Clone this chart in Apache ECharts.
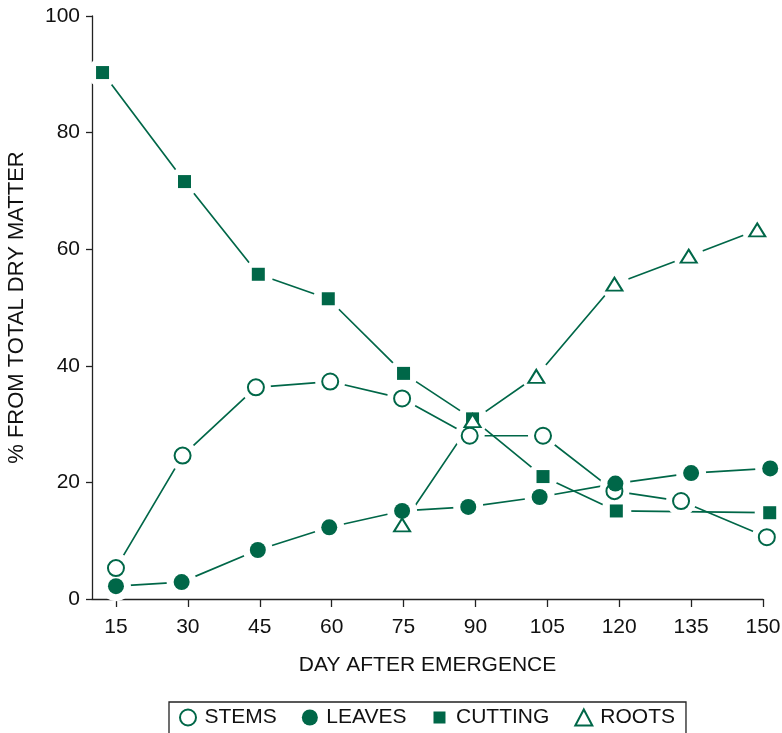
<!DOCTYPE html>
<html>
<head>
<meta charset="utf-8">
<style>
  html, body { margin: 0; padding: 0; background: #fff; }
  #chart { width: 782px; height: 733px; }
</style>
<script src="https://cdn.jsdelivr.net/npm/echarts@6/dist/echarts.min.js"></script>
</head>
<body>
<div id="chart"></div>
<script>
// Day after emergence (x) and share of total dry matter in % (y) per organ
const stemsDays   = [15, 28.9, 44.2, 59.7, 74.7, 88.8, 104.1, 119, 132.9, 150.8];
const stemsPct    = [5.3, 24.6, 36.3, 37.3, 34.4, 28.0, 28.0, 18.5, 16.8, 10.6];
const leavesDays  = [15, 28.7, 44.6, 59.5, 74.7, 88.5, 103.4, 119.2, 135, 151.5];
const leavesPct   = [2.2, 2.9, 8.4, 12.3, 15.1, 15.8, 17.5, 19.8, 21.6, 22.4];
const cuttingDays = [12.2, 29.3, 44.7, 59.3, 75.0, 89.4, 104.1, 119.4, 151.4];
const cuttingPct  = [90.3, 71.6, 55.7, 51.5, 38.7, 30.9, 21.0, 15.1, 14.8];
const rootsDays   = [74.7, 89.4, 102.7, 119, 134.5, 148.8];
const rootsPct    = [12.7, 30.6, 38.2, 54.0, 58.8, 63.3];
const xTicks      = [15, 30, 45, 60, 75, 90, 105, 120, 135, 150];

const GREEN = '#006748';
const FONT = '"Liberation Sans", Arial, Helvetica, sans-serif';

function pairs(xs, ys) { return xs.map((x, i) => [x, ys[i]]); }

// small square centred in a 16x16 box for the legend key
const SMALL_SQUARE = 'path://M0,0h0.01v0.01h-0.01zM16,16h0.01v0.01h-0.01zM2,2h12v12h-12z';

const organs = [
  { name: 'STEMS',   data: pairs(stemsDays, stemsPct),     symbol: 'circle',   size: 16, icon: 'circle',
    style: { color: '#fff', borderColor: GREEN, borderWidth: 2, opacity: 1 } },
  { name: 'LEAVES',  data: pairs(leavesDays, leavesPct),   symbol: 'circle',   size: 16, icon: 'circle',
    style: { color: GREEN, opacity: 1 } },
  { name: 'CUTTING', data: pairs(cuttingDays, cuttingPct), symbol: 'rect',     size: 13, icon: SMALL_SQUARE,
    style: { color: GREEN, opacity: 1 } },
  { name: 'ROOTS',   data: pairs(rootsDays, rootsPct),     symbol: 'triangle', size: [16, 13], icon: 'triangle',
    style: { color: '#fff', borderColor: GREEN, borderWidth: 2, opacity: 1 } }
];

const series = [];
// connecting lines
organs.forEach(o => series.push({
  type: 'line', data: o.data, showSymbol: false, symbol: 'none', silent: true, clip: false,
  lineStyle: { color: GREEN, width: 1.7 }, z: 1, animation: false
}));
// white clearance around every marker so lines stop short of it
organs.forEach(o => series.push({
  type: 'scatter', data: o.data, symbol: 'circle', symbolSize: 30, silent: true, clip: false,
  itemStyle: { color: '#fff', opacity: 1 }, z: 2, animation: false
}));
// markers
organs.forEach(o => series.push({
  type: 'scatter', name: o.name, data: o.data, symbol: o.symbol, symbolSize: o.size, clip: false,
  itemStyle: o.style, z: 3, animation: false
}));

const chart = echarts.init(document.getElementById('chart'), null, { renderer: 'canvas' });
chart.setOption({
  backgroundColor: '#fff',
  textStyle: { fontFamily: FONT },
  grid: { left: 92, right: 19, top: 16, bottom: 134, containLabel: false, outerBoundsMode: 'none' },
  xAxis: {
    type: 'value', min: 10, max: 150,
    name: 'DAY AFTER EMERGENCE', nameLocation: 'middle', nameGap: 56,
    nameTextStyle: { fontSize: 21, color: '#111', fontFamily: FONT },
    axisLine: { show: true, lineStyle: { color: '#222', width: 1.3 } },
    axisTick: { show: true, length: 8, customValues: xTicks, lineStyle: { color: '#222', width: 1.3 } },
    axisLabel: { customValues: xTicks, fontSize: 21, color: '#111', margin: 18, fontFamily: FONT },
    splitLine: { show: false }
  },
  yAxis: {
    type: 'value', min: 0, max: 100, interval: 20,
    name: '% FROM TOTAL DRY MATTER', nameLocation: 'middle', nameGap: 64, nameRotate: 90,
    nameTextStyle: { fontSize: 22, color: '#111', fontFamily: FONT },
    axisLine: { show: true, lineStyle: { color: '#222', width: 1.3 } },
    axisTick: { show: true, length: 6, lineStyle: { color: '#222', width: 1.3 } },
    axisLabel: { fontSize: 21, color: '#111', margin: 12, fontFamily: FONT },
    splitLine: { show: false }
  },
  legend: {
    top: 702, left: 169,
    orient: 'horizontal',
    borderColor: '#222', borderWidth: 1.3,
    padding: [5, 11, 12, 10],
    itemGap: 25, itemWidth: 17, itemHeight: 16,
    textStyle: { fontSize: 21, color: '#111', fontFamily: FONT, padding: [0, 0, 0, 3] },
    data: organs.map(o => ({ name: o.name, icon: o.icon })),
    selectedMode: false
  },
  series
});
</script>
</body>
</html>
